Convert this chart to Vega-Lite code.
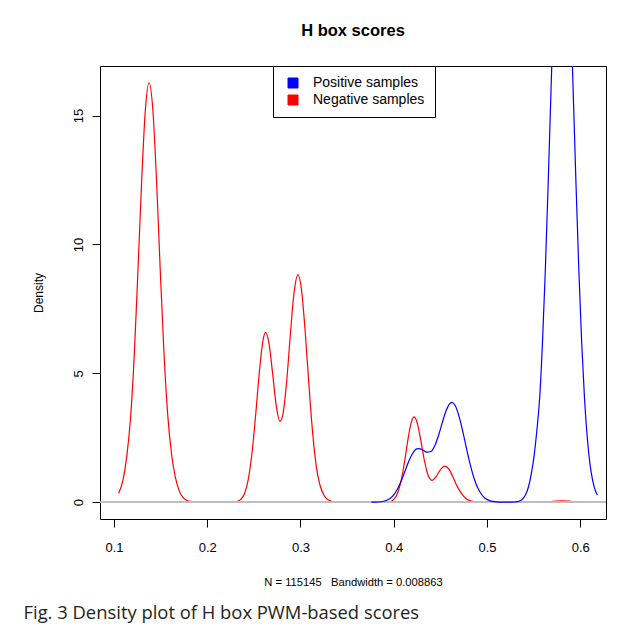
{
  "$schema": "https://vega.github.io/schema/vega-lite/v6.json",
  "background": "white",
  "padding": {"left": 23, "top": 22, "right": 0, "bottom": 0},
  "title": {
    "text": "Fig. 3 Density plot of H box PWM-based scores",
    "orient": "bottom",
    "anchor": "start",
    "font": "Open Sans",
    "fontSize": 18.4,
    "fontWeight": "normal",
    "color": "#231F20",
    "offset": 16,
    "dx": -8
  },
  "datasets": {
    "dens": [
      {"series": "Negative samples", "x": 0.105, "y": 0.35},
      {"series": "Negative samples", "x": 0.1096, "y": 0.85},
      {"series": "Negative samples", "x": 0.1136, "y": 1.75},
      {"series": "Negative samples", "x": 0.1176, "y": 3.2},
      {"series": "Negative samples", "x": 0.1216, "y": 5.6},
      {"series": "Negative samples", "x": 0.1256, "y": 8.9},
      {"series": "Negative samples", "x": 0.1296, "y": 12.4},
      {"series": "Negative samples", "x": 0.1336, "y": 15.2},
      {"series": "Negative samples", "x": 0.1376, "y": 16.27},
      {"series": "Negative samples", "x": 0.1416, "y": 15.25},
      {"series": "Negative samples", "x": 0.1456, "y": 12.5},
      {"series": "Negative samples", "x": 0.1496, "y": 9.0},
      {"series": "Negative samples", "x": 0.1536, "y": 5.8},
      {"series": "Negative samples", "x": 0.1576, "y": 3.4},
      {"series": "Negative samples", "x": 0.1616, "y": 1.9},
      {"series": "Negative samples", "x": 0.1656, "y": 1.0},
      {"series": "Negative samples", "x": 0.1696, "y": 0.48},
      {"series": "Negative samples", "x": 0.1736, "y": 0.2},
      {"series": "Negative samples", "x": 0.1776, "y": 0.08},
      {"series": "Negative samples", "x": 0.1816, "y": 0.03},
      {"series": "Negative samples", "x": 0.19, "y": 0.008},
      {"series": "Negative samples", "x": 0.205, "y": 0.004},
      {"series": "Negative samples", "x": 0.22, "y": 0.005},
      {"series": "Negative samples", "x": 0.228, "y": 0.01},
      {"series": "Negative samples", "x": 0.232, "y": 0.03},
      {"series": "Negative samples", "x": 0.236, "y": 0.11},
      {"series": "Negative samples", "x": 0.24, "y": 0.34},
      {"series": "Negative samples", "x": 0.244, "y": 0.89},
      {"series": "Negative samples", "x": 0.248, "y": 1.91},
      {"series": "Negative samples", "x": 0.252, "y": 3.42},
      {"series": "Negative samples", "x": 0.256, "y": 5.1},
      {"series": "Negative samples", "x": 0.26, "y": 6.32},
      {"series": "Negative samples", "x": 0.2626, "y": 6.59},
      {"series": "Negative samples", "x": 0.266, "y": 6.21},
      {"series": "Negative samples", "x": 0.27, "y": 5.03},
      {"series": "Negative samples", "x": 0.274, "y": 3.75},
      {"series": "Negative samples", "x": 0.278, "y": 3.14},
      {"series": "Negative samples", "x": 0.281, "y": 3.39},
      {"series": "Negative samples", "x": 0.285, "y": 4.62},
      {"series": "Negative samples", "x": 0.289, "y": 6.45},
      {"series": "Negative samples", "x": 0.293, "y": 8.1},
      {"series": "Negative samples", "x": 0.2973, "y": 8.83},
      {"series": "Negative samples", "x": 0.301, "y": 8.26},
      {"series": "Negative samples", "x": 0.305, "y": 6.63},
      {"series": "Negative samples", "x": 0.309, "y": 4.57},
      {"series": "Negative samples", "x": 0.313, "y": 2.7},
      {"series": "Negative samples", "x": 0.317, "y": 1.37},
      {"series": "Negative samples", "x": 0.321, "y": 0.65},
      {"series": "Negative samples", "x": 0.325, "y": 0.28},
      {"series": "Negative samples", "x": 0.329, "y": 0.11},
      {"series": "Negative samples", "x": 0.333, "y": 0.04},
      {"series": "Negative samples", "x": 0.337, "y": 0.015},
      {"series": "Negative samples", "x": 0.345, "y": 0.005},
      {"series": "Negative samples", "x": 0.36, "y": 0.003},
      {"series": "Negative samples", "x": 0.375, "y": 0.003},
      {"series": "Negative samples", "x": 0.385, "y": 0.004},
      {"series": "Negative samples", "x": 0.39, "y": 0.006},
      {"series": "Negative samples", "x": 0.395, "y": 0.02},
      {"series": "Negative samples", "x": 0.399, "y": 0.08},
      {"series": "Negative samples", "x": 0.403, "y": 0.26},
      {"series": "Negative samples", "x": 0.407, "y": 0.69},
      {"series": "Negative samples", "x": 0.411, "y": 1.44},
      {"series": "Negative samples", "x": 0.415, "y": 2.38},
      {"series": "Negative samples", "x": 0.4185, "y": 3.06},
      {"series": "Negative samples", "x": 0.4217, "y": 3.31},
      {"series": "Negative samples", "x": 0.425, "y": 3.1},
      {"series": "Negative samples", "x": 0.429, "y": 2.4},
      {"series": "Negative samples", "x": 0.433, "y": 1.59},
      {"series": "Negative samples", "x": 0.437, "y": 1.03},
      {"series": "Negative samples", "x": 0.4413, "y": 0.85},
      {"series": "Negative samples", "x": 0.445, "y": 0.97},
      {"series": "Negative samples", "x": 0.449, "y": 1.21},
      {"series": "Negative samples", "x": 0.4549, "y": 1.4},
      {"series": "Negative samples", "x": 0.459, "y": 1.29},
      {"series": "Negative samples", "x": 0.463, "y": 1.02},
      {"series": "Negative samples", "x": 0.467, "y": 0.69},
      {"series": "Negative samples", "x": 0.471, "y": 0.43},
      {"series": "Negative samples", "x": 0.475, "y": 0.23},
      {"series": "Negative samples", "x": 0.479, "y": 0.11},
      {"series": "Negative samples", "x": 0.483, "y": 0.045},
      {"series": "Negative samples", "x": 0.487, "y": 0.018},
      {"series": "Negative samples", "x": 0.491, "y": 0.007},
      {"series": "Negative samples", "x": 0.5, "y": 0.003},
      {"series": "Negative samples", "x": 0.52, "y": 0.002},
      {"series": "Negative samples", "x": 0.54, "y": 0.003},
      {"series": "Negative samples", "x": 0.555, "y": 0.006},
      {"series": "Negative samples", "x": 0.565, "y": 0.02},
      {"series": "Negative samples", "x": 0.573, "y": 0.04},
      {"series": "Negative samples", "x": 0.58, "y": 0.05},
      {"series": "Negative samples", "x": 0.588, "y": 0.04},
      {"series": "Negative samples", "x": 0.596, "y": 0.02},
      {"series": "Negative samples", "x": 0.6075, "y": 0.005},
      {"series": "Positive samples", "x": 0.376, "y": 0.001},
      {"series": "Positive samples", "x": 0.38, "y": 0.0035},
      {"series": "Positive samples", "x": 0.384, "y": 0.01},
      {"series": "Positive samples", "x": 0.388, "y": 0.028},
      {"series": "Positive samples", "x": 0.392, "y": 0.067},
      {"series": "Positive samples", "x": 0.396, "y": 0.146},
      {"series": "Positive samples", "x": 0.4, "y": 0.289},
      {"series": "Positive samples", "x": 0.404, "y": 0.513},
      {"series": "Positive samples", "x": 0.408, "y": 0.82},
      {"series": "Positive samples", "x": 0.412, "y": 1.2},
      {"series": "Positive samples", "x": 0.416, "y": 1.58},
      {"series": "Positive samples", "x": 0.42, "y": 1.88},
      {"series": "Positive samples", "x": 0.4245, "y": 2.07},
      {"series": "Positive samples", "x": 0.427, "y": 2.08},
      {"series": "Positive samples", "x": 0.431, "y": 2.03},
      {"series": "Positive samples", "x": 0.4356, "y": 1.94},
      {"series": "Positive samples", "x": 0.44, "y": 1.97},
      {"series": "Positive samples", "x": 0.444, "y": 2.19},
      {"series": "Positive samples", "x": 0.448, "y": 2.59},
      {"series": "Positive samples", "x": 0.452, "y": 3.08},
      {"series": "Positive samples", "x": 0.456, "y": 3.54},
      {"series": "Positive samples", "x": 0.4595, "y": 3.8},
      {"series": "Positive samples", "x": 0.4625, "y": 3.87},
      {"series": "Positive samples", "x": 0.466, "y": 3.74},
      {"series": "Positive samples", "x": 0.47, "y": 3.33},
      {"series": "Positive samples", "x": 0.474, "y": 2.75},
      {"series": "Positive samples", "x": 0.478, "y": 2.09},
      {"series": "Positive samples", "x": 0.482, "y": 1.46},
      {"series": "Positive samples", "x": 0.486, "y": 0.94},
      {"series": "Positive samples", "x": 0.49, "y": 0.56},
      {"series": "Positive samples", "x": 0.494, "y": 0.31},
      {"series": "Positive samples", "x": 0.498, "y": 0.155},
      {"series": "Positive samples", "x": 0.502, "y": 0.072},
      {"series": "Positive samples", "x": 0.506, "y": 0.031},
      {"series": "Positive samples", "x": 0.51, "y": 0.012},
      {"series": "Positive samples", "x": 0.515, "y": 0.004},
      {"series": "Positive samples", "x": 0.522, "y": 0.003},
      {"series": "Positive samples", "x": 0.5295, "y": 0.01},
      {"series": "Positive samples", "x": 0.5325, "y": 0.025},
      {"series": "Positive samples", "x": 0.5355, "y": 0.06},
      {"series": "Positive samples", "x": 0.5385, "y": 0.14},
      {"series": "Positive samples", "x": 0.5415, "y": 0.3},
      {"series": "Positive samples", "x": 0.5445, "y": 0.6},
      {"series": "Positive samples", "x": 0.5475, "y": 1.1},
      {"series": "Positive samples", "x": 0.5505, "y": 1.8},
      {"series": "Positive samples", "x": 0.5535, "y": 2.8},
      {"series": "Positive samples", "x": 0.5565, "y": 4.06},
      {"series": "Positive samples", "x": 0.5595, "y": 6.21},
      {"series": "Positive samples", "x": 0.5625, "y": 8.97},
      {"series": "Positive samples", "x": 0.5655, "y": 12.26},
      {"series": "Positive samples", "x": 0.5685, "y": 15.82},
      {"series": "Positive samples", "x": 0.5715, "y": 19.29},
      {"series": "Positive samples", "x": 0.5745, "y": 22.23},
      {"series": "Positive samples", "x": 0.5775, "y": 24.2},
      {"series": "Positive samples", "x": 0.5805, "y": 24.9},
      {"series": "Positive samples", "x": 0.5835, "y": 24.2},
      {"series": "Positive samples", "x": 0.5865, "y": 22.23},
      {"series": "Positive samples", "x": 0.5895, "y": 19.29},
      {"series": "Positive samples", "x": 0.5925, "y": 15.82},
      {"series": "Positive samples", "x": 0.5955, "y": 12.26},
      {"series": "Positive samples", "x": 0.5985, "y": 8.97},
      {"series": "Positive samples", "x": 0.6015, "y": 6.21},
      {"series": "Positive samples", "x": 0.6045, "y": 4.06},
      {"series": "Positive samples", "x": 0.6075, "y": 2.51},
      {"series": "Positive samples", "x": 0.6105, "y": 1.46},
      {"series": "Positive samples", "x": 0.6135, "y": 0.81},
      {"series": "Positive samples", "x": 0.6165, "y": 0.42},
      {"series": "Positive samples", "x": 0.6184, "y": 0.28}
    ]
  },
  "vconcat": [
    {
      "width": 506,
      "height": 453,
      "title": {
        "text": "H box scores",
        "font": "Liberation Sans",
        "fontSize": 16.5,
        "fontWeight": "bold",
        "color": "black",
        "anchor": "middle",
        "frame": "group",
        "offset": 26.5
      },
      "data": {"name": "dens"},
      "encoding": {
        "x": {
          "field": "x",
          "type": "quantitative",
          "scale": {"domain": [0.085, 0.6276], "nice": false, "zero": false},
          "axis": {
            "title": "N = 115145\u00a0\u00a0\u00a0Bandwidth = 0.008863",
            "titleFontSize": 11.2,
            "values": [0.1, 0.2, 0.3, 0.4, 0.5, 0.6],
            "format": ".1f",
            "labelPadding": 14.5,
            "titlePadding": 22
          }
        },
        "y": {
          "field": "y",
          "type": "quantitative",
          "scale": {"domain": [-0.65, 16.92], "nice": false, "zero": false},
          "axis": {
            "title": "Density",
            "values": [0, 5, 10, 15],
            "labelAngle": -90,
            "labelAlign": "center",
            "labelBaseline": "bottom",
            "labelPadding": 7,
            "titlePadding": 27
          }
        },
        "color": {
          "field": "series",
          "type": "nominal",
          "scale": {"domain": ["Positive samples", "Negative samples"], "range": ["#0000FF", "#FF0000"]},
          "legend": {
            "orient": "none",
            "legendX": 173,
            "legendY": 0,
            "title": null,
            "strokeColor": "black",
            "fillColor": "white",
            "padding": 10,
            "symbolType": "square",
            "symbolSize": 100,
            "symbolOffset": 3,
            "labelOffset": 13,
            "labelFont": "Liberation Sans",
            "labelFontSize": 14,
            "labelColor": "black",
            "rowPadding": 3,
            "encode": {
              "symbols": {
                "update": {
                  "fill": {"scale": "color", "field": "value"},
                  "stroke": {"value": "black"},
                  "strokeWidth": {"value": 1},
                  "opacity": {"value": 1}
                }
              }
            }
          }
        }
      },
      "layer": [
        {
          "transform": [{"filter": "datum.series === 'Negative samples'"}],
          "mark": {"type": "line", "interpolate": "monotone", "strokeWidth": 1.2, "clip": true}
        },
        {
          "mark": {"type": "rule", "color": "#BEBEBE", "strokeWidth": 1},
          "encoding": {"x": null, "color": null, "y": {"datum": 0, "type": "quantitative"}}
        },
        {
          "transform": [{"filter": "datum.series === 'Positive samples'"}],
          "mark": {"type": "line", "interpolate": "monotone", "strokeWidth": 1.2, "clip": true}
        }
      ]
    }
  ],
  "config": {
    "font": "Liberation Sans",
    "view": {"stroke": "black", "strokeWidth": 1},
    "axis": {
      "domain": false,
      "grid": false,
      "ticks": true,
      "tickColor": "black",
      "tickSize": 8,
      "tickWidth": 1,
      "labelFont": "Liberation Sans",
      "labelFontSize": 13,
      "labelColor": "black",
      "titleFont": "Liberation Sans",
      "titleFontSize": 12,
      "titleFontWeight": "normal",
      "titleColor": "black"
    }
  }
}
